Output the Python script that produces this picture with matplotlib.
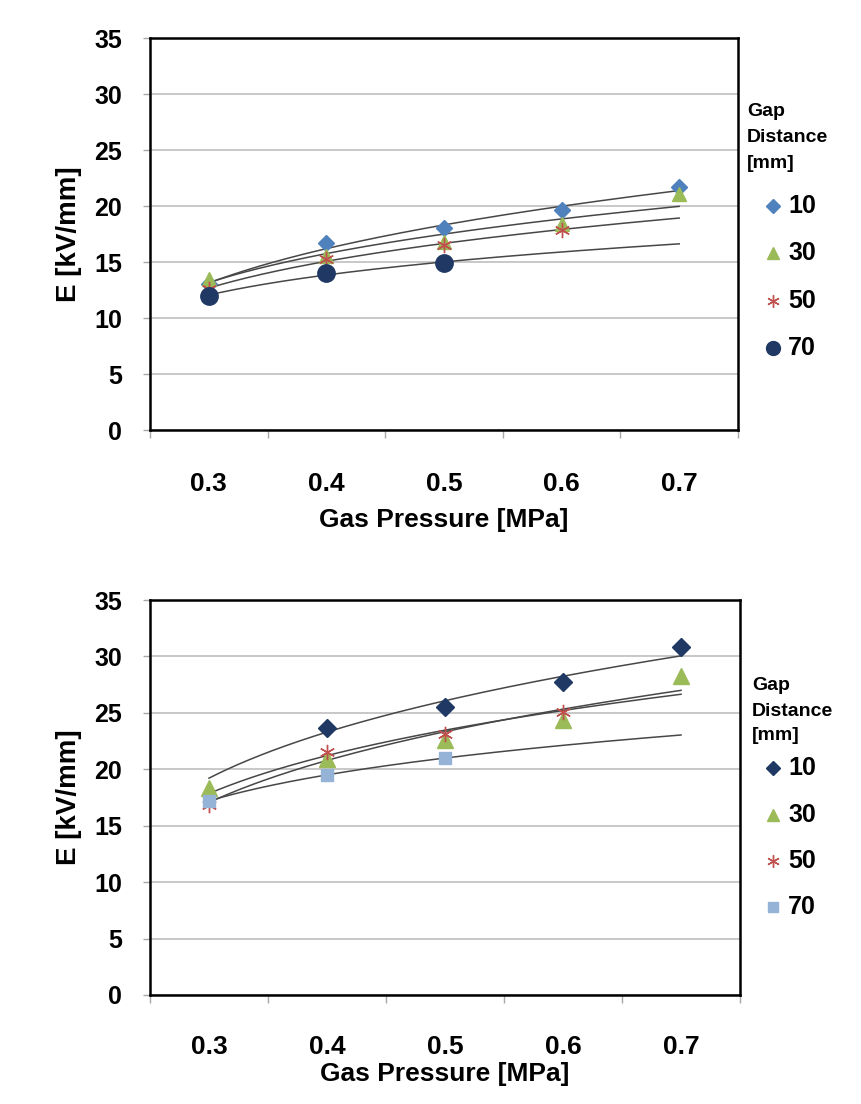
import numpy as np
import matplotlib
matplotlib.use("Agg")
import matplotlib.pyplot as plt
from matplotlib.lines import Line2D

plt.rcParams['font.family'] = ['Liberation Sans', 'DejaVu Sans']
plt.rcParams['font.weight'] = 'bold'

pressures = ["0.3", "0.4", "0.5", "0.6", "0.7"]
gaps = ["10", "30", "50", "70"]
legend_title = ["Gap", "Distance", "[mm]"]

nan = np.nan
top_10 = [13.0, 16.7, 18.0, 19.6, 21.7]
top_30 = [13.5, 15.5, 16.8, 18.4, 21.1]
top_50 = [12.6, 15.3, 16.5, 17.9, nan]
top_70 = [12.0, 14.0, 14.9, nan, nan]

bot_10 = [nan, 23.7, 25.5, 27.7, 30.8]
bot_30 = [18.3, 20.9, 22.6, 24.4, 28.3]
bot_50 = [16.8, 21.5, 23.1, 25.1, nan]
bot_70 = [17.2, 19.5, 21.0, nan, nan]

W, H = 861, 1104
fig = plt.figure(figsize=(W / 100, H / 100), dpi=100)

def axes_px(l, t, r, b):
    return fig.add_axes([l / W, 1 - b / H, (r - l) / W, (b - t) / H])

ax1 = axes_px(150, 38, 738, 430)
ax2 = axes_px(150, 600, 740, 995)

top_styles = [
    dict(marker='D', color='#4F81BD', ms=8.5, mec='#4F81BD'),
    dict(marker='^', color='#9BBB59', ms=10, mec='#9BBB59'),
    dict(marker=(6, 2, 0), color='#C0504D', ms=11, mew=1.0),
    dict(marker='o', color='#1F3864', ms=12.5, mec='#1F3864'),
]
bot_styles = [
    dict(marker='D', color='#1F3864', ms=9, mec='#1F3864'),
    dict(marker='^', color='#9BBB59', ms=11, mec='#9BBB59'),
    dict(marker=(6, 2, 0), color='#C0504D', ms=11, mew=1.0),
    dict(marker='s', color='#95B3D7', ms=8, mec='#95B3D7'),
]
leg_ms = [[7, 9, 9, 10], [7, 9, 9, 6.5]]

def px(x, y):
    return x / W, 1 - y / H

def draw(ax, series, styles, tick_pad, xlabel_pad, title_x, title_ys, entry_x, entry_ys, lms):
    xi = np.arange(1, len(pressures) + 1)
    for vals in series:
        y = np.array(vals, dtype=float)
        m = ~np.isnan(y)
        # Excel-style power trendline on category index
        b, lna = np.polyfit(np.log(xi[m]), np.log(y[m]), 1)
        xs = np.linspace(1, 5, 200)
        ax.plot(xs, np.exp(lna) * xs ** b, color='#474747', lw=1.1, zorder=2)
    for vals, st in zip(series, styles):
        ax.plot(xi, np.array(vals, dtype=float), linestyle='none', zorder=3, **st)
    ax.set_xlim(0.5, 5.5)
    ax.set_ylim(0, 35)
    ax.set_yticks(np.arange(0, 36, 5))
    ax.set_yticklabels([str(v) for v in range(0, 36, 5)], fontsize=18, fontweight='bold')
    ax.set_xticks(xi)
    ax.set_xticklabels(pressures, fontsize=19, fontweight='bold')
    ax.set_xticks(np.arange(0.5, 5.6, 1.0), minor=True)
    ax.tick_params(axis='x', which='major', length=0, pad=tick_pad)
    ax.tick_params(axis='x', which='minor', length=6, color='#A8A8A8', width=1)
    ax.tick_params(axis='y', which='major', length=5, color='#A8A8A8', width=1, pad=15)
    ax.yaxis.grid(True, color='#C4C4C4', lw=1.3)
    ax.set_axisbelow(True)
    for s in ax.spines.values():
        s.set_color('black')
        s.set_linewidth(1.8)
    ax.set_ylabel('E [kV/mm]', fontsize=20, fontweight='bold', labelpad=9)
    ax.set_xlabel('Gas Pressure [MPa]', fontsize=19, fontweight='bold', labelpad=xlabel_pad)
    # legend (title + entries)
    for t, ty in zip(legend_title, title_ys):
        fig.text(*px(title_x, ty), t, fontsize=14, fontweight='bold', va='center', ha='left')
    for st, g, ey, ms in zip(styles, gaps, entry_ys, lms):
        fig.add_artist(Line2D([entry_x / W], [1 - ey / H], transform=fig.transFigure,
                              linestyle='none', marker=st['marker'], color=st['color'],
                              mec=st.get('mec', st['color']), mew=st.get('mew', 1.0), ms=ms))
        fig.text(*px(entry_x + 15, ey), g, fontsize=18, fontweight='bold', va='center', ha='left')

draw(ax1, [top_10, top_30, top_50, top_70], top_styles, 30, 9,
     747, [112, 137, 164], 773, [206, 253, 301, 348], leg_ms[0])
draw(ax2, [bot_10, bot_30, bot_50, bot_70], bot_styles, 29, 2,
     752, [685, 711, 736], 773, [768, 815, 861, 907], leg_ms[1])

fig.savefig('out.png', dpi=100)
